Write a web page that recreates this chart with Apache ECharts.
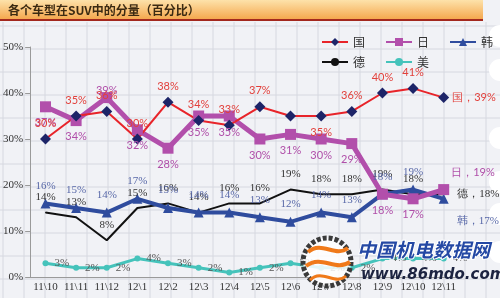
<!DOCTYPE html>
<html><head><meta charset="utf-8">
<script src="https://cdn.jsdelivr.net/npm/echarts@6/dist/echarts.min.js"></script>
<style>html,body{margin:0;padding:0;background:#fff;}#c{width:500px;height:298px;}</style>
</head><body><div id="c"></div>
<script>
const categories = ['11\\10','11\\11','11\\12','12\\1','12\\2','12\\3','12\\4','12\\5','12\\6','12\\7','12\\8','12\\9','12\\10','12\\11'];
const guo = [30,35,36,30,38,34,33,37,35,35,36,40,41,39];
const ri  = [37,34,39,32,28,35,35,30,31,30,29,18,17,19];
const han = [16,15,14,17,15,14,14,13,12,14,13,18,19,17];
const de  = [14,13,8,15,16,14,16,16,19,18,18,19,18,18];
const mei = [3,2,2,4,3,2,1,2,3,2,2,4,4,4];
const yTicks = [0,10,20,30,40,50];
const titleText = '各个车型在SUV中的分量（百分比）';

const SERIF = '"Liberation Serif","DejaVu Serif",serif';
const SANS = '"Lato","DejaVu Sans",sans-serif';

function mk(values, overrides){
  return values.map((v,i)=> overrides[i] ? {value:v, label:overrides[i]} : v);
}

const graphics = [];
for (let x = 3; x < 500; x += 21) {
  graphics.push({type:'line', z:-10, shape:{x1:x,y1:22,x2:x,y2:298}, style:{stroke:'#d6d8e0',lineWidth:1}});
}
for (let y = 26; y < 298; y += 23) {
  graphics.push({type:'line', z:-10, shape:{x1:0,y1:y,x2:500,y2:y}, style:{stroke:'#d6d8e0',lineWidth:1}});
}
[36,70,138,182,214,252].forEach(cy=>{
  graphics.push({type:'circle', z:-5, shape:{cx:500,cy:cy,r:11}, style:{fill:'#ffffff'}});
});
graphics.push({type:'rect', z:1, shape:{x:0,y:0,width:483,height:20},
  style:{fill:new echarts.graphic.LinearGradient(0,0,0,1,[{offset:0,color:'#fde2aa'},{offset:1,color:'#f4a54a'}])}});
graphics.push({type:'rect', z:1, shape:{x:0,y:19,width:483,height:2}, style:{fill:'#a3281e'}});
graphics.push({type:'text', z:2, x:8, y:10, style:{text:titleText, fill:'#3b2a12', font:'bold 12px "Noto Sans CJK SC",sans-serif', verticalAlign:'middle'}});
graphics.push({type:'circle', z:100, shape:{cx:327,cy:262,r:24}, style:{fill:'rgba(255,255,255,0.85)', stroke:'#3a3a3a', lineWidth:5, lineDash:[4,2]}});
graphics.push({type:'bezierCurve', z:101, shape:{x1:308,y1:252,x2:348,y2:248,cpx1:322,cpy1:240,cpx2:335,cpy2:258}, style:{stroke:'#f07a1a',lineWidth:4,fill:null}});
graphics.push({type:'bezierCurve', z:101, shape:{x1:306,y1:266,x2:350,y2:262,cpx1:322,cpy1:254,cpx2:335,cpy2:272}, style:{stroke:'#f07a1a',lineWidth:4,fill:null}});
graphics.push({type:'bezierCurve', z:101, shape:{x1:310,y1:280,x2:346,y2:276,cpx1:322,cpy1:268,cpx2:335,cpy2:286}, style:{stroke:'#f07a1a',lineWidth:3,fill:null}});
graphics.push({type:'text', z:101, x:357, y:250, style:{text:'中国机电数据网', fill:'#2448a4', font:'italic bold 19px "Noto Sans CJK SC",sans-serif', verticalAlign:'middle', stroke:'#ffffff', lineWidth:2}});
graphics.push({type:'text', z:101, x:361, y:275, style:{text:'www.86mdo.com', fill:'#1c2340', font:'italic bold 15px "DejaVu Sans",sans-serif', verticalAlign:'middle'}});

const pct = '{c}%';
const labelRed = {show:true, position:'top', distance:5, color:'#e2413c', fontFamily:SANS, fontSize:11, formatter:pct};
const labelPurple = {show:true, position:'bottom', distance:5, color:'#b04fa9', fontFamily:SANS, fontSize:11, formatter:pct};
const labelBlue = {show:true, position:'top', distance:7, color:'#5868a8', fontFamily:SERIF, fontSize:11, formatter:pct};
const labelBlack = {show:true, position:'top', distance:9, color:'#333333', fontFamily:SERIF, fontSize:11, formatter:pct};
const labelCyan = {show:true, position:'right', distance:6, color:'#555555', fontFamily:SERIF, fontSize:11, formatter:pct};

const option = {
  animation:false,
  backgroundColor:'#f1f2f6',
  graphic: graphics,
  legend:[
    {data:['国','日','韩'], left:316, top:31, itemWidth:26, itemHeight:10, itemGap:20,
     textStyle:{fontFamily:'"Noto Sans CJK SC",sans-serif', fontSize:12, color:'#333'}},
    {data:['德','美'], left:316, top:51, itemWidth:26, itemHeight:10, itemGap:20,
     textStyle:{fontFamily:'"Noto Sans CJK SC",sans-serif', fontSize:12, color:'#333'}}
  ],
  grid:{left:25, right:41, top:47, bottom:21, containLabel:false},
  xAxis:{type:'category', data:categories, boundaryGap:true,
    axisLine:{lineStyle:{color:'#9a9a9a'}}, axisTick:{lineStyle:{color:'#9a9a9a'}},
    axisLabel:{color:'#333', fontFamily:SERIF, fontSize:11, margin:5, interval:0}},
  yAxis:{type:'value', min:yTicks[0], max:yTicks[yTicks.length-1], interval:yTicks[1]-yTicks[0],
    axisLine:{show:true, lineStyle:{color:'#9a9a9a'}}, axisTick:{show:true, lineStyle:{color:'#9a9a9a'}},
    splitLine:{show:false},
    axisLabel:{formatter:'{value}%', color:'#333', fontFamily:SERIF, fontSize:11, margin:7}},
  series:[
    {name:'美', type:'line', data:mk(mei,{}), symbol:'circle', symbolSize:6,
     lineStyle:{color:'#45c3bb', width:3}, itemStyle:{color:'#45c3bb'}, label:labelCyan},
    {name:'德', type:'line', data:mk(de,{13:{position:'right', distance:13, formatter:'德，{c}%'}}),
     symbol:'circle', symbolSize:1,
     lineStyle:{color:'#111111', width:2}, itemStyle:{color:'#111111'}, label:labelBlack},
    {name:'韩', type:'line', data:mk(han,{13:{position:'right', distance:8, offset:[0,22], formatter:'韩，{c}%'}}),
     symbol:'triangle', symbolSize:10,
     lineStyle:{color:'#2f4c9e', width:4}, itemStyle:{color:'#2f4c9e'}, label:labelBlue},
    {name:'日', type:'line', data:mk(ri,{2:{position:'top', distance:-4}, 13:{position:'right', distance:2, offset:[0,-17], formatter:'日，{c}%'}}),
     symbol:'rect', symbolSize:11,
     lineStyle:{color:'#b24fab', width:5}, itemStyle:{color:'#b24fab'}, label:labelPurple},
    {name:'国', type:'line', data:mk(guo,{8:{show:false}, 9:{position:'bottom'}, 13:{position:'right', distance:3, formatter:'国，{c}%'}}),
     symbol:'diamond', symbolSize:11,
     lineStyle:{color:'#e8242a', width:2}, itemStyle:{color:'#1d2468'}, label:labelRed}
  ]
};
const chart = echarts.init(document.getElementById('c'), null, {renderer:'canvas'});
chart.setOption(option);
</script>
</body></html>
